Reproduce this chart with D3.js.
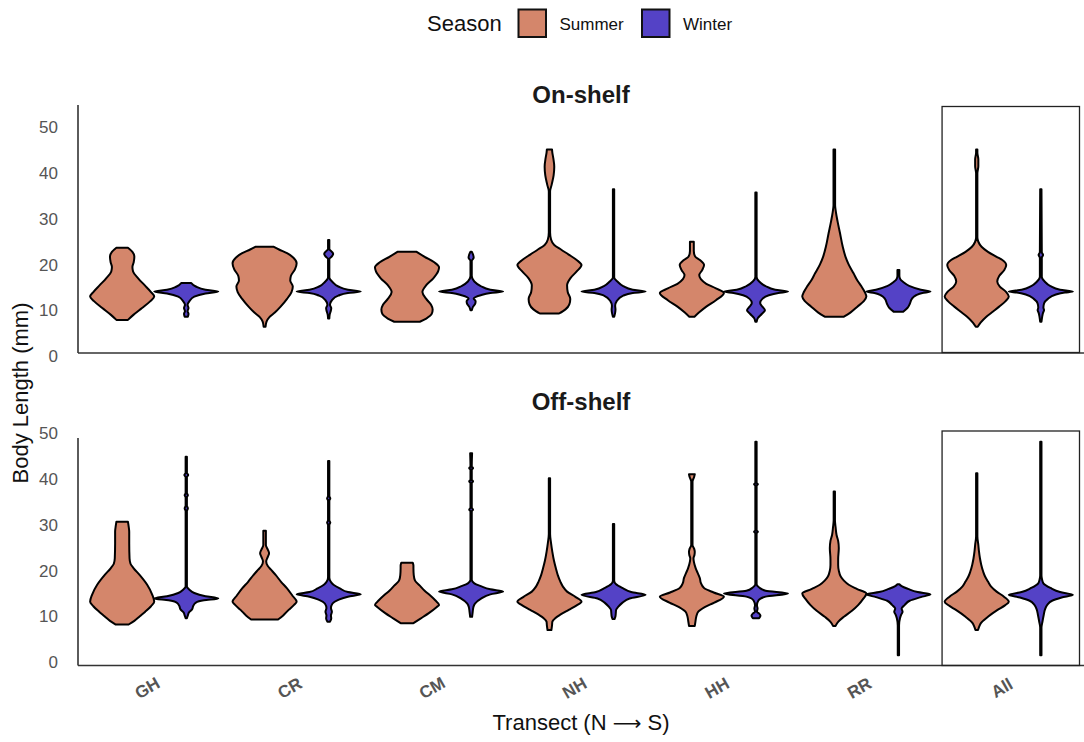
<!DOCTYPE html>
<html>
<head>
<meta charset="utf-8">
<script src="https://cdn.jsdelivr.net/npm/d3@7"></script>
<style>
  body { margin: 0; background: #fff; }
  svg { display: block; font-family: "Liberation Sans", Arial, sans-serif; }
</style>
</head>
<body>
<svg id="chart" width="1084" height="742"></svg>
<script>
const transects = ['GH', 'CR', 'CM', 'NH', 'HH', 'RR', 'All']
const seasons = ['Summer', 'Winter']
const seasonColors = ['#d4866b', '#5442c6']
const yTicks = [0, 10, 20, 30, 40, 50]

// violin outlines: [body length (mm), relative half width]
const onShelfSummer = [
  [[7.9,0.18],[9,0.35],[10.5,0.62],[12,0.88],[13,1],[14,0.9],[15.5,0.7],[17,0.5],[18.5,0.34],[19.5,0.32],[20.5,0.36],[21.7,0.38],[22.8,0.32],[23.7,0.18]],
  [[6.4,0.03],[7.5,0.06],[8.5,0.15],[9.5,0.32],[10.8,0.5],[12.5,0.7],[14,0.84],[15.2,0.88],[16.5,0.8],[17.5,0.82],[19,0.95],[20.3,1],[21.5,0.9],[22.5,0.7],[23.3,0.45],[23.9,0.29]],
  [[7.5,0.4],[8.2,0.6],[9.2,0.77],[10.2,0.8],[11.2,0.75],[12.5,0.6],[14,0.48],[15.5,0.6],[17,0.82],[18.5,0.97],[19.4,1],[20.5,0.85],[21.7,0.55],[22.8,0.3]],
  [[9.3,0.3],[10.2,0.5],[11.3,0.62],[12.5,0.65],[14,0.57],[15.5,0.55],[17,0.65],[18.5,0.85],[19.9,1],[21,0.85],[22.2,0.6],[23.2,0.38],[24.3,0.15],[25.5,0.05],[27,0.02],[36,0.02],[37.5,0.07],[39.5,0.13],[41.4,0.15],[43.3,0.12],[44.5,0.09],[45.2,0.08]],
  [[8.6,0.08],[9.5,0.22],[10.8,0.45],[12.2,0.75],[13.8,1],[14.8,0.75],[15.8,0.45],[16.8,0.28],[17.7,0.23],[18.8,0.32],[19.9,0.38],[21,0.25],[21.8,0.1],[23,0.06],[25,0.06]],
  [[8.6,0.3],[9.5,0.5],[10.8,0.72],[12,0.92],[13,1],[14,0.95],[15.2,0.85],[16.5,0.72],[18.1,0.6],[20,0.45],[21.7,0.35],[24,0.26],[26.8,0.18],[29.5,0.1],[31.5,0.05],[33,0.025],[45.2,0.025]],
  [[6.4,0.03],[7.3,0.12],[8.6,0.3],[9.8,0.52],[10.8,0.7],[12,0.9],[13,1],[14,0.92],[15.2,0.72],[16.3,0.64],[17.5,0.7],[18.8,0.86],[19.9,0.92],[21,0.8],[21.7,0.62],[22.8,0.35],[23.9,0.15],[25,0.05],[26,0.02],[40,0.02],[41.5,0.05],[43,0.05],[44.5,0.02],[45.2,0.02]],
]
const onShelfWinter = [
  [[8.6,0.05],[9.2,0.07],[9.8,0.04],[10.5,0.07],[11.2,0.04],[12,0.1],[13,0.25],[13.7,0.6],[14.1,1],[14.5,0.6],[15.2,0.3],[16,0.15]],
  [[8.2,0.02],[9,0.03],[10,0.07],[10.5,0.08],[11.2,0.04],[12.2,0.1],[13.2,0.3],[13.8,0.6],[14.1,1],[14.5,0.6],[15.2,0.3],[16.2,0.12],[17.2,0.02],[21.2,0.02],[21.8,0.1],[22.3,0.14],[22.8,0.1],[23.4,0.02],[25.4,0.02]],
  [[10,0.02],[10.8,0.06],[11.5,0.13],[12,0.14],[12.6,0.08],[13.3,0.3],[13.8,0.6],[14.1,1],[14.5,0.6],[15.3,0.3],[16.3,0.1],[17.5,0.02],[20.8,0.02],[21.5,0.08],[22.2,0.06],[22.8,0.02]],
  [[8.6,0.02],[9.5,0.05],[10.2,0.06],[11,0.05],[12,0.1],[13.2,0.3],[13.8,0.6],[14.1,1],[14.5,0.6],[15.3,0.3],[16.3,0.12],[17.2,0.02],[36.5,0.02]],
  [[7.5,0.02],[8.3,0.06],[9.2,0.18],[10,0.28],[10.8,0.2],[11.6,0.13],[12.5,0.2],[13.3,0.4],[13.8,0.7],[14.1,1],[14.5,0.6],[15.3,0.3],[16.3,0.1],[17.3,0.02],[35.8,0.02]],
  [[9.7,0.15],[10.5,0.28],[11.5,0.36],[12.5,0.42],[13.3,0.55],[13.8,0.75],[14.1,1],[14.5,0.7],[15.3,0.35],[16.2,0.15],[16.8,0.06],[17.5,0.03],[18.8,0.03]],
  [[7.5,0.02],[8.5,0.04],[9.5,0.07],[10,0.1],[10.6,0.08],[11.5,0.1],[12.5,0.22],[13.4,0.45],[13.9,0.75],[14.1,1],[14.5,0.6],[15.3,0.3],[16.3,0.12],[17.3,0.03],[21.5,0.03],[22.1,0.07],[22.7,0.03],[36.5,0.02]],
]
const offShelfSummer = [
  [[8.2,0.2],[9,0.38],[10,0.55],[11,0.72],[12.2,0.9],[13.2,1],[14.7,0.94],[16.9,0.78],[19,0.55],[20.5,0.36],[21.5,0.26],[22.7,0.23],[26,0.22],[28.5,0.22],[29.8,0.2],[30.7,0.18]],
  [[9.3,0.42],[10.2,0.58],[11.4,0.75],[12.5,0.92],[13.2,1],[14.5,0.87],[16.1,0.7],[17.5,0.52],[19,0.35],[20.2,0.2],[21,0.1],[22,0.05],[23,0.1],[23.8,0.14],[24.6,0.1],[25.6,0.04],[28.7,0.04]],
  [[8.5,0.2],[9.5,0.42],[10.7,0.68],[12,0.92],[12.5,1],[13.5,0.88],[14.7,0.7],[15.6,0.55],[16.7,0.4],[17.8,0.25],[19,0.21],[20.5,0.2],[21.1,0.2],[21.7,0.18]],
  [[7,0.06],[8,0.08],[8.8,0.09],[9.6,0.18],[10.4,0.35],[11.4,0.6],[12.4,0.85],[13.2,1],[14.2,0.82],[15.4,0.55],[16.5,0.42],[17.6,0.34],[19,0.26],[20.5,0.2],[22.2,0.14],[24.1,0.09],[26,0.05],[28,0.02],[40.2,0.02]],
  [[7.9,0.09],[8.8,0.11],[10,0.14],[11,0.2],[12,0.4],[13,0.7],[14.3,1],[15.2,0.68],[16.2,0.38],[17.3,0.28],[18.3,0.25],[19.5,0.18],[20.5,0.12],[22,0.06],[22.7,0.05],[23.4,0.08],[24.1,0.09],[24.8,0.07],[25.6,0.02],[39.5,0.02],[40.5,0.07],[41.1,0.09]],
  [[7.9,0.04],[8.8,0.12],[9.9,0.3],[11.2,0.55],[12.5,0.75],[13.8,0.9],[15,1],[16,0.7],[16.9,0.45],[17.8,0.3],[18.7,0.2],[20,0.14],[21.2,0.12],[22.5,0.12],[24.9,0.14],[26.5,0.12],[27.8,0.07],[29.5,0.04],[31,0.02],[37.3,0.02]],
  [[7,0.04],[7.8,0.08],[8.5,0.13],[9.9,0.35],[11.4,0.65],[12.4,0.88],[13.2,1],[14.3,0.85],[15.4,0.62],[16.5,0.45],[17.6,0.35],[18.7,0.26],[19.8,0.2],[21.3,0.14],[22.7,0.1],[24.2,0.07],[25.6,0.05],[27.5,0.02],[41.3,0.02]],
]
const offShelfWinter = [
  [[9.6,0.02],[10.2,0.05],[10.8,0.08],[11.5,0.18],[12.3,0.22],[13,0.3],[13.5,0.55],[13.9,1],[14.4,0.6],[15.1,0.25],[15.8,0.1],[16.5,0.02],[33,0.02],[33.6,0.05],[34.2,0.02],[36,0.02],[36.5,0.05],[37,0.02],[40.4,0.02],[40.9,0.06],[41.4,0.02],[44.9,0.02]],
  [[8.8,0.04],[9.5,0.08],[10.2,0.07],[11,0.1],[11.8,0.07],[12.8,0.12],[13.6,0.3],[14.3,0.6],[14.8,1],[15.3,0.6],[16.1,0.35],[16.9,0.15],[17.6,0.06],[18.5,0.02],[30,0.02],[30.5,0.05],[31,0.02],[35.3,0.02],[35.8,0.05],[36.3,0.02],[44,0.02]],
  [[9.9,0.03],[11,0.05],[12,0.07],[12.8,0.12],[13.8,0.3],[14.8,0.6],[15.4,1],[15.9,0.6],[16.6,0.3],[17.2,0.1],[18,0.02],[33,0.02],[33.3,0.06],[33.8,0.02],[39.2,0.02],[39.5,0.06],[39.9,0.02],[42.1,0.02],[42.4,0.06],[42.8,0.02],[45.7,0.03]],
  [[9.4,0.03],[10,0.06],[10.7,0.07],[11.4,0.08],[12.1,0.15],[13,0.28],[13.9,0.5],[14.7,1],[15.3,0.55],[16.1,0.3],[17,0.08],[17.8,0.02],[30.2,0.02]],
  [[9.6,0.1],[10.1,0.14],[10.6,0.1],[11,0.03],[11.7,0.05],[12.4,0.03],[13.5,0.08],[14.3,0.3],[15,1],[15.6,0.3],[16.3,0.1],[17,0.02],[28.2,0.02],[28.5,0.06],[28.8,0.02],[38.6,0.02],[38.9,0.06],[39.2,0.02],[48.2,0.02]],
  [[1.5,0.02],[8,0.02],[9.6,0.05],[10.4,0.09],[11,0.13],[11.7,0.1],[12.5,0.2],[13.4,0.35],[14.2,0.7],[14.8,1],[15.3,0.6],[16,0.3],[16.6,0.1],[17,0.03]],
  [[1.5,0.02],[7.5,0.02],[8.8,0.05],[10.3,0.09],[11.5,0.13],[12.5,0.2],[13.4,0.35],[14.1,0.65],[14.7,1],[15.3,0.6],[16.2,0.3],[17.2,0.08],[18,0.04],[19,0.02],[48.2,0.02]],
]

const svg = d3.select('#chart')
const left = 78
const right = 1084

// 组的位置
const x0 = d3.scaleBand().domain(transects).range([83, 1080])
const xSeason = d3.scaleBand().domain(seasons).range([0, x0.bandwidth()]).paddingOuter(0.111)
const halfWidth = d3.scaleLinear().domain([0, 1]).range([0, xSeason.bandwidth() / 2])
const color = d3.scaleOrdinal().domain(seasons).range(seasonColors)

const panels = [
  {title: 'On-shelf', titleY: 103, y0: 356, y50: 127.5, axisTop: 105, axisBottom: 353, box: [106.5, 352.5],
    series: [onShelfSummer, onShelfWinter]},
  {title: 'Off-shelf', titleY: 410, y0: 662, y50: 433.5, axisTop: 438, axisBottom: 665.5, box: [431, 665.5],
    series: [offShelfSummer, offShelfWinter]},
]

panels.forEach((p) => {
  const y = d3.scaleLinear().domain([0, 50]).range([p.y0, p.y50])
  const g = svg.append('g')

  // 标题
  g.append('text')
    .attr('x', (left + 1080) / 2 + 2)
    .attr('y', p.titleY)
    .attr('text-anchor', 'middle')
    .attr('font-size', 24)
    .attr('font-weight', 'bold')
    .attr('fill', '#1a1a1a')
    .text(p.title)

  // y 轴刻度
  g.append('g')
    .attr('transform', `translate(${left},0)`)
    .call(d3.axisLeft(y).tickValues(yTicks).tickSize(0).tickPadding(20))
    .call((a) => a.select('.domain').remove())
    .selectAll('text')
    .attr('font-size', 17)
    .attr('fill', '#555')
    .attr('font-family', '"Liberation Sans", Arial, sans-serif')

  // 轴线
  g.append('line').attr('x1', left).attr('x2', left).attr('y1', p.axisTop).attr('y2', p.axisBottom)
    .attr('stroke', '#333').attr('stroke-width', 1.6)
  g.append('line').attr('x1', left).attr('x2', right).attr('y1', p.axisBottom).attr('y2', p.axisBottom)
    .attr('stroke', '#333').attr('stroke-width', 1.6)

  // "All" 外框
  g.append('rect')
    .attr('x', x0('All') + 4.5)
    .attr('y', p.box[0])
    .attr('width', x0.bandwidth() - 5)
    .attr('height', p.box[1] - p.box[0])
    .attr('fill', 'none')
    .attr('stroke', '#222')
    .attr('stroke-width', 1.3)

  // 小提琴
  seasons.forEach((s, si) => {
    p.series[si].forEach((profile, ti) => {
      const cx = x0(transects[ti]) + xSeason(s) + xSeason.bandwidth() / 2
      const area = d3.area()
        .curve(d3.curveMonotoneY)
        .y((d) => y(d[0]))
        .x0((d) => cx - halfWidth(d[1]))
        .x1((d) => cx + halfWidth(d[1]))
      g.append('path')
        .attr('d', area(profile))
        .attr('fill', color(s))
        .attr('stroke', '#000')
        .attr('stroke-width', 2)
        .attr('stroke-linejoin', 'round')
    })
  })
})

// x 轴标签
svg.append('g')
  .selectAll('text')
  .data(transects)
  .join('text')
  .attr('transform', (d) => `translate(${x0(d) + x0.bandwidth() / 2 - 4},${693}) rotate(-30)`)
  .attr('text-anchor', 'middle')
  .attr('font-size', 17)
  .attr('font-weight', 'bold')
  .attr('fill', '#555')
  .text((d) => d)

const xTitle = svg.append('text')
  .attr('x', 581)
  .attr('y', 730)
  .attr('text-anchor', 'middle')
  .attr('font-size', 22)
  .attr('fill', '#111')
xTitle.append('tspan').text('Transect (N ')
xTitle.append('tspan').attr('font-family', '"DejaVu Sans", sans-serif').attr('font-size', 20).text('\u27F6')
xTitle.append('tspan').text(' S)')

svg.append('text')
  .attr('transform', 'translate(28,393) rotate(-90)')
  .attr('text-anchor', 'middle')
  .attr('font-size', 22)
  .attr('fill', '#111')
  .text('Body Length (mm)')

// 图例
const legend = svg.append('g')
legend.append('text').attr('x', 427).attr('y', 31).attr('font-size', 22).attr('fill', '#111').text('Season')
const legendX = [518.5, 642]
seasons.forEach((s, i) => {
  legend.append('rect')
    .attr('x', legendX[i]).attr('y', 9.5).attr('width', 27.5).attr('height', 27.5)
    .attr('fill', color(s)).attr('stroke', '#111').attr('stroke-width', 2)
  legend.append('text')
    .attr('x', legendX[i] + 41).attr('y', 29.5)
    .attr('font-size', 17).attr('fill', '#111')
    .text(s)
})
</script>
</body>
</html>
